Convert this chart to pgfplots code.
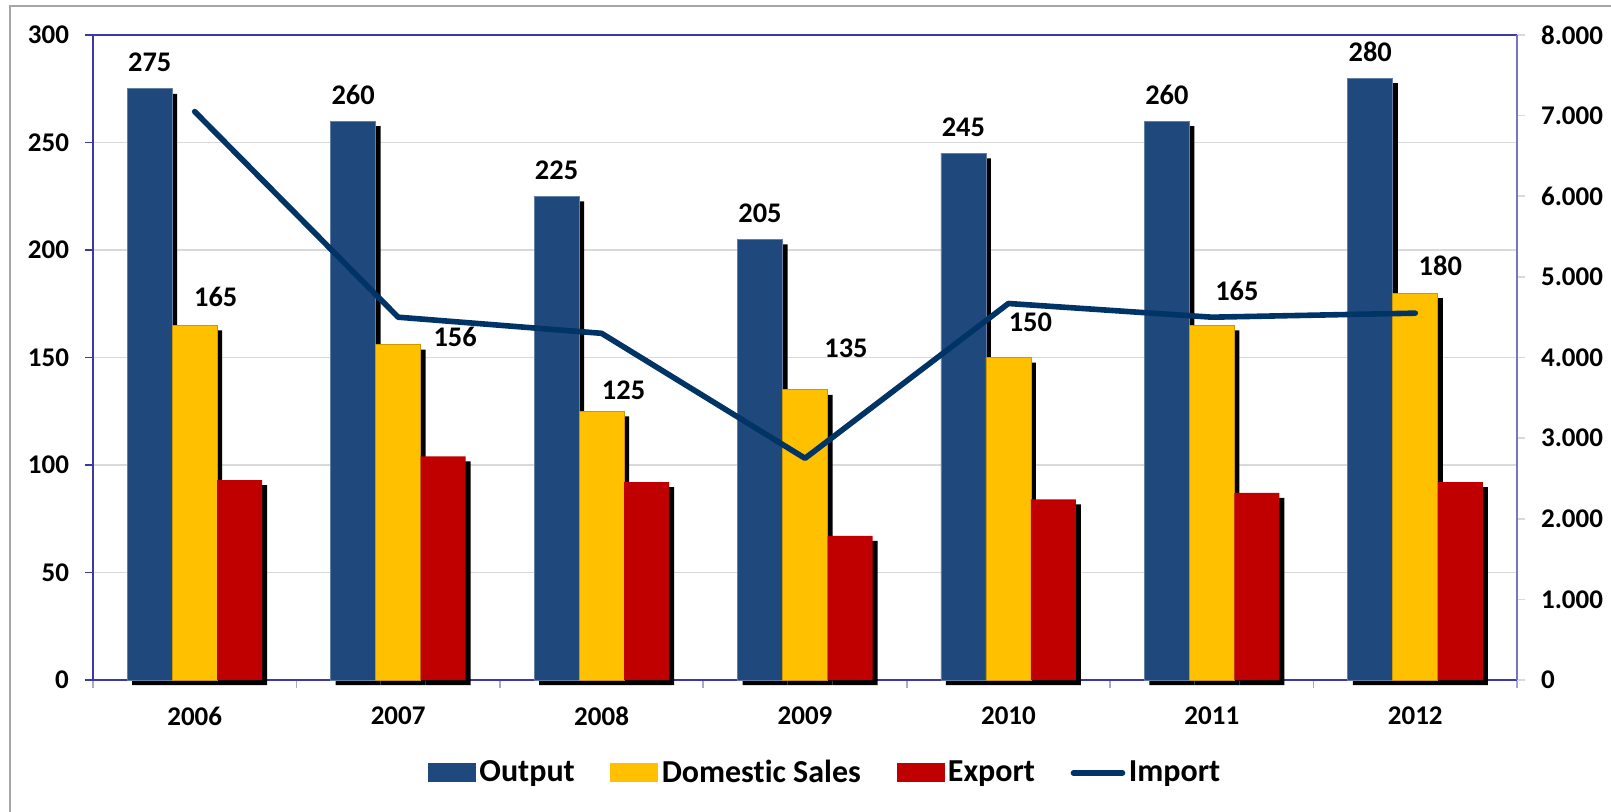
\documentclass[border=0pt]{standalone}
\usepackage{fontspec}
\setmainfont{Carlito}[Ligatures=NoCommon]
\usepackage{pgfplots}
\pgfplotsset{compat=1.18}
\usepackage{pgfplotstable}
\definecolor{cOut}{HTML}{1F497D}
\definecolor{cDom}{HTML}{FFC000}
\definecolor{cExp}{HTML}{C00000}
\definecolor{cImp}{HTML}{003366}
\definecolor{axblue}{HTML}{3A3AA6}
\definecolor{gridc}{HTML}{D9D9D9}
\definecolor{frame}{HTML}{A6A6A6}

\pgfplotstableread{
x out dx dy
0 275 0 13
1 260 0 13
2 225 0 13
3 205 0 13
4 245 0 13
5 260 0 13
6 280 0 13
}\outtab
\pgfplotstableread{
x dom dx dy
0 165 10.5 14
1 156 28.5 4
2 125 11 10.5
3 135 20.5 20.5
4 150 11 17.5
5 165 12.5 17
6 180 12.5 13.5
}\domtab
\pgfplotstableread{
x exp
0 93
1 104
2 92
3 67
4 84
5 87
6 92
}\exptab
\pgfplotstableread{
x imp
0 7050
1 4500
2 4300
3 2750
4 4670
5 4500
6 4550
}\imptab

\begin{document}
\begin{tikzpicture}
\newcommand{\tfont}{\fontsize{13.5}{16}\selectfont\bfseries}
\newcommand{\lfont}{\fontsize{14.2}{17}\selectfont\bfseries}
\draw[frame, line width=1pt] (5pt,-10pt) -- (5pt,402.5pt) -- (820pt,402.5pt);
\begin{axis}[
  at={(46.5pt,65.5pt)}, anchor=south west,
  scale only axis, width=712pt, height=322.5pt,
  xmin=-0.5, xmax=6.5, ymin=0, ymax=300,
  ybar, bar width=22.5pt,
  clip=false,
  axis line style={axblue, line width=1pt},
  tick pos=left, tick align=outside,
  ytick={0,50,...,300},
  major tick length=4pt, minor tick length=4pt,
  y tick style={axblue, line width=0.8pt},
  ymajorgrids, grid style={gridc, line width=0.6pt},
  xtick={0,...,6},
  xticklabels={2006,2007,2008,2009,2010,2011,2012},
  major x tick style={draw=none},
  minor xtick={-0.5,0.5,...,6.5},
  minor x tick style={gridc!70!axblue, line width=0.8pt},
  xmajorgrids=false,
  tick label style={font=\tfont},
  /pgf/number format/assume math mode=true,
  yticklabel style={xshift=-4.5pt},
  xticklabel style={yshift=-6pt},
  nodes near coords style={font=\lfont, anchor=center, inner sep=0pt},
]
% Output
\addplot[fill=black, draw=none, bar shift=-22.5pt, xshift=2.5pt, yshift=-2.5pt, forget plot] table[x=x,y=out] {\outtab};
\addplot[fill=cOut, draw=cOut!70!white, line width=0.4pt, bar shift=-22.5pt,
  nodes near coords, point meta=explicit symbolic,
  visualization depends on={\thisrow{dx}\as\ldx},
  visualization depends on={\thisrow{dy}\as\ldy},
  every node near coord/.append style={xshift=\ldx pt, yshift=\ldy pt}]
  table[x=x,y=out,meta=out] {\outtab};
% Domestic
\addplot[fill=black, draw=none, bar shift=0pt, xshift=2.5pt, yshift=-2.5pt, forget plot] table[x=x,y=dom] {\domtab};
\addplot[fill=cDom, draw=cDom!80!black, line width=0.4pt, bar shift=0pt,
  nodes near coords, point meta=explicit symbolic,
  visualization depends on={\thisrow{dx}\as\ldx},
  visualization depends on={\thisrow{dy}\as\ldy},
  every node near coord/.append style={xshift=\ldx pt, yshift=\ldy pt}]
  table[x=x,y=dom,meta=dom] {\domtab};
% Export
\addplot[fill=black, draw=none, bar shift=22.5pt, xshift=2.5pt, yshift=-2.5pt, forget plot] table[x=x,y=exp] {\exptab};
\addplot[fill=cExp, draw=none, bar shift=22.5pt] table[x=x,y=exp] {\exptab};
\end{axis}
\begin{axis}[
  at={(46.5pt,65.5pt)}, anchor=south west,
  scale only axis, width=712pt, height=322.5pt,
  xmin=-0.5, xmax=6.5, ymin=0, ymax=8000,
  axis x line=none, axis y line*=right,
  y axis line style={axblue!70!white, line width=1pt},
  tick align=outside,
  ytick={0,1000,...,8000},
  major tick length=4pt,
  y tick style={gridc, line width=0.8pt},
  scaled y ticks=false,
  /pgf/number format/1000 sep={.},
  /pgf/number format/assume math mode=true,
  tick label style={font=\tfont},
  yticklabel style={xshift=4.5pt},
  legend columns=4,
  legend style={at={(0.514,-0.144)}, anchor=center, draw=none, fill=none,
    font=\fontsize{16}{19}\selectfont\bfseries,
    /tikz/every even column/.append style={column sep=17pt},
    /tikz/every odd column/.append style={column sep=1pt},
    nodes={inner sep=0.8pt}},
]
\addlegendimage{legend image code/.code={\fill[cOut] (0pt,-4.5pt) rectangle (23.5pt,4.5pt);}}
\addlegendentry{Output}
\addlegendimage{legend image code/.code={\fill[cDom] (0pt,-4.5pt) rectangle (23.5pt,4.5pt);}}
\addlegendentry{Domestic Sales}
\addlegendimage{legend image code/.code={\fill[cExp] (0pt,-4.5pt) rectangle (23.5pt,4.5pt);}}
\addlegendentry{Export}
\addplot[cImp, line width=2.8pt, line cap=round, line join=round, mark=none,
  legend image code/.code={\draw[cImp, line width=2.8pt, line cap=round] (0.5pt,0pt) -- (25pt,0pt);}]
  table[x=x,y=imp] {\imptab};
\addlegendentry{Import}
\end{axis}
\pgfresetboundingbox
\path[use as bounding box] (0,0) rectangle (805.5pt,405.5pt);
\end{tikzpicture}
\end{document}
